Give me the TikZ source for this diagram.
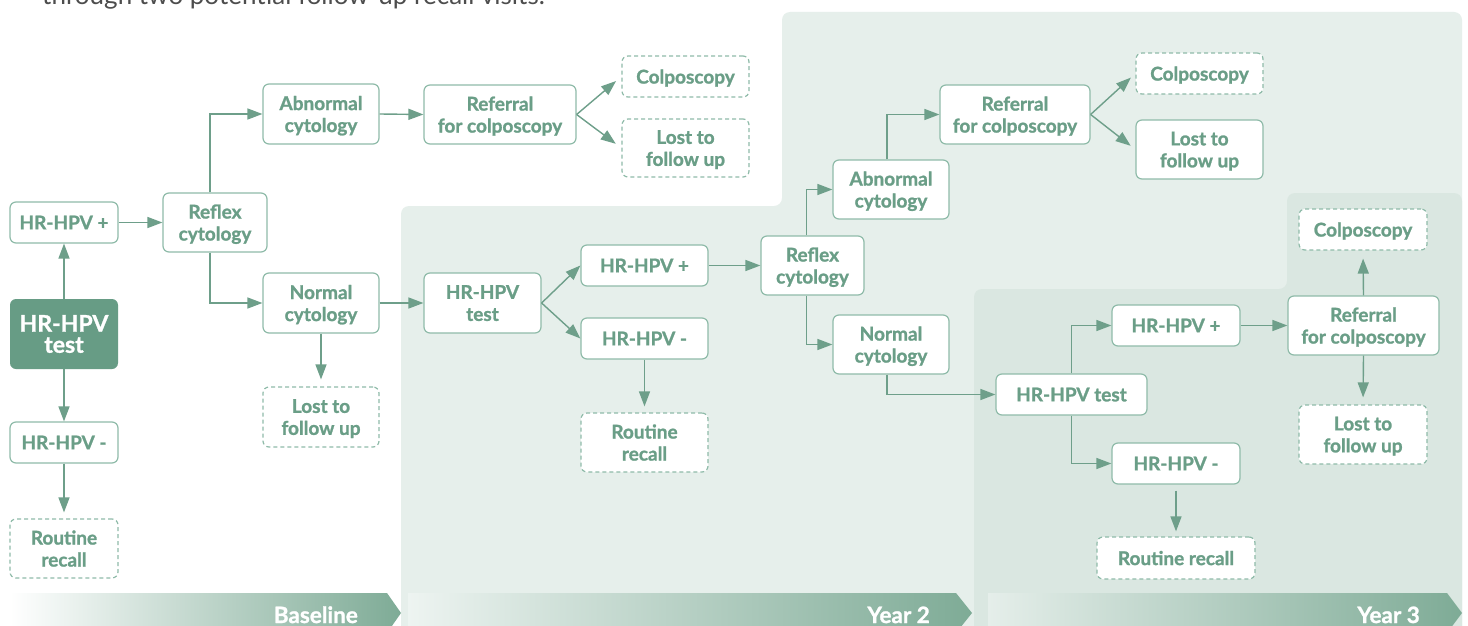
\documentclass[tikz,border=0pt]{standalone}
\usepackage{fontspec}
\setmainfont{Lato}[BoldFeatures={FakeBold=1.2}]
\usetikzlibrary{arrows.meta,calc}
\definecolor{txt}{HTML}{6A9E87}
\definecolor{bord}{HTML}{8FBBA9}
\definecolor{arr}{HTML}{6E9F8A}
\definecolor{darkfill}{HTML}{679C85}
\definecolor{pantwo}{HTML}{E6EFEB}
\definecolor{panthree}{HTML}{DAE7E1}
\definecolor{bandR}{HTML}{7EAB96}
\definecolor{headtxt}{HTML}{4D4D4D}
\begin{document}
\begin{tikzpicture}[x=1pt,y=-1pt,
  box/.style={draw=bord, line width=1.2pt, fill=white, rounded corners=6pt,
    text=txt, font=\fontsize{19}{22}\selectfont\bfseries, align=center,
    inner sep=0pt, text depth=0pt},
  dbox/.style={box, dash pattern=on 4pt off 3pt},
  darkbox/.style={fill=darkfill, rounded corners=6pt, text=white,
    font=\fontsize{23}{21}\selectfont\bfseries, align=center, inner sep=0pt},
  conn/.style={draw=arr, line width=1.4pt, -{Triangle[length=15pt,width=11pt]}},
  band/.style={right color=bandR},
  bandtext/.style={text=white, font=\fontsize{22.5}{24}\selectfont\bfseries, anchor=base east, inner sep=0pt}
]
\useasboundingbox (0,0) rectangle (1468,626);
\fill[white] (0,0) rectangle (1468,626);

% header (cropped by the page edge, as in the reference)
\node[anchor=base west, inner sep=0pt, text=headtxt, font=\fontsize{26}{28}\selectfont] (head) at (42,5) {through two potential follow-up recall visits.};

% panels
\fill[pantwo, rounded corners=8pt] (401,660) -- (401,206) -- (782,206) -- (782,12) -- (1462,12) -- (1462,660) -- cycle;
\fill[panthree, rounded corners=8pt] (974,660) -- (974,289) -- (1287,289) -- (1287,193) -- (1462,193) -- (1462,660) -- cycle;

% banners
\shade[left color=white, band] (10,593) -- (387,593) -- (401,613) -- (387,633) -- (10,633) -- cycle;
\shade[left color=pantwo!70!white, band] (408,593) -- (956,593) -- (972,613) -- (956,633) -- (408,633) -- cycle;
\shade[left color=panthree!70!white, band] (988,593) -- (1447,593) -- (1462,613) -- (1447,633) -- (988,633) -- cycle;
\node[bandtext] (lb1) at (358,623) {Baseline};
\node[bandtext] (lb2) at (930,623) {Year 2};
\node[bandtext] (lb3) at (1420,623) {Year 3};

% Baseline nodes
\node[box, minimum width=108pt, minimum height=41pt] (bpos) at (64,222.5) {HR-HPV +};
\node[darkbox, minimum width=108pt, minimum height=70pt] (btest) at (64,334) {HR-HPV\\test};
\node[box, minimum width=108pt, minimum height=41pt] (bneg) at (64,442.5) {HR-HPV -};
\node[dbox, minimum width=108pt, minimum height=59pt] (brr) at (64,548.5) {Routine\\recall};
\node[box, minimum width=104pt, minimum height=59pt] (brefl) at (215,222.5) {Reflex\\cytology};
\node[box, minimum width=116pt, minimum height=60pt] (babn) at (321,114) {Abnormal\\cytology};
\node[box, minimum width=116pt, minimum height=60pt] (bnorm) at (321,303) {Normal\\cytology};
\node[dbox, minimum width=116pt, minimum height=60pt] (blost) at (321,417) {Lost to\\follow up};
\node[box, minimum width=152pt, minimum height=59pt] (bref) at (500,114.5) {Referral\\for colposcopy};
\node[dbox, minimum width=127pt, minimum height=41pt] (bcol) at (685.5,76.5) {Colposcopy};
\node[dbox, minimum width=127pt, minimum height=58pt] (blost2) at (685.5,148) {Lost to\\follow up};

% Year 2 nodes
\node[box, minimum width=117pt, minimum height=60pt] (ttest) at (482.5,303) {HR-HPV\\test};
\node[box, minimum width=127pt, minimum height=41pt] (tpos) at (644.5,265.5) {HR-HPV +};
\node[box, minimum width=127pt, minimum height=41pt] (tneg) at (644.5,338.5) {HR-HPV -};
\node[dbox, minimum width=127pt, minimum height=59pt] (trr) at (644.5,442.5) {Routine\\recall};
\node[box, minimum width=103pt, minimum height=59pt] (trefl) at (812.5,265.5) {Reflex\\cytology};
\node[box, minimum width=116pt, minimum height=59pt] (tabn) at (891,189.5) {Abnormal\\cytology};
\node[box, minimum width=116pt, minimum height=59pt] (tnorm) at (891,344.5) {Normal\\cytology};
\node[box, minimum width=150pt, minimum height=59pt] (tref) at (1015,114.5) {Referral\\for colposcopy};
\node[dbox, minimum width=127pt, minimum height=41pt] (tcol) at (1199.5,73.5) {Colposcopy};
\node[box, minimum width=127pt, minimum height=59pt] (tlost) at (1199.5,149.5) {Lost to\\follow up};

% Year 3 nodes
\node[box, minimum width=151pt, minimum height=41pt] (htest) at (1071.5,394.5) {HR-HPV test};
\node[box, minimum width=128pt, minimum height=41pt] (hpos) at (1176,325.5) {HR-HPV +};
\node[box, minimum width=128pt, minimum height=41pt] (hneg) at (1176,463.5) {HR-HPV -};
\node[dbox, minimum width=158pt, minimum height=42pt] (hrr) at (1176,558) {Routine recall};
\node[box, minimum width=151pt, minimum height=59pt] (href) at (1363.5,325.5) {Referral\\for colposcopy};
\node[dbox, minimum width=128pt, minimum height=41pt] (hcol) at (1363,229.5) {Colposcopy};
\node[dbox, minimum width=128pt, minimum height=59pt] (hlost) at (1363,434.5) {Lost to\\follow up};

% Baseline connectors
\draw[conn] (btest.north) -- (bpos.south);
\draw[conn] (btest.south) -- (bneg.north);
\draw[conn, shorten >=6pt] (bneg.south) -- (brr.north);
\draw[conn] (bpos.east) -- (brefl.west);
\draw[conn] ($(brefl.north)+(-5,0)$) |- (babn.west);
\draw[conn] ($(brefl.south)+(-5,0)$) |- (bnorm.west);
\draw[conn] (babn.east) -- (bref.west);
\draw[conn, shorten >=7pt] (bref.east) -- (bcol.west);
\draw[conn, shorten >=7pt] (bref.east) -- (blost2.west);
\draw[conn] (bnorm.east) -- (ttest.west);
\draw[conn, shorten >=7pt] (bnorm.south) -- (blost.north);

% Year 2 connectors
\draw[conn] (ttest.east) -- (tpos.west);
\draw[conn] (ttest.east) -- (tneg.west);
\draw[conn, shorten >=6pt] (tneg.south) -- (trr.north);
\draw[conn] (tpos.east) -- (trefl.west);
\draw[conn] ($(trefl.north)+(-6,0)$) |- (tabn.west);
\draw[conn] ($(trefl.south)+(-6,0)$) |- (tnorm.west);
\draw[conn] ($(tabn.north)+(-4,0)$) |- (tref.west);
\draw[conn, shorten >=6pt] (tref.east) -- (tcol.west);
\draw[conn, shorten >=6pt] (tref.east) -- (tlost.west);
\draw[conn] ($(tnorm.south)+(-4,0)$) |- (htest.west);

% Year 3 connectors
\draw[conn] (htest.north) |- (hpos.west);
\draw[conn] (htest.south) |- (hneg.west);
\draw[conn, shorten <=6pt, shorten >=5pt] (hneg.south) -- (hrr.north);
\draw[conn] (hpos.east) -- (href.west);
\draw[conn, shorten >=8pt] (href.north) -- (hcol.south);
\draw[conn, shorten >=7pt] (href.south) -- (hlost.north);
\end{tikzpicture}
\end{document}
